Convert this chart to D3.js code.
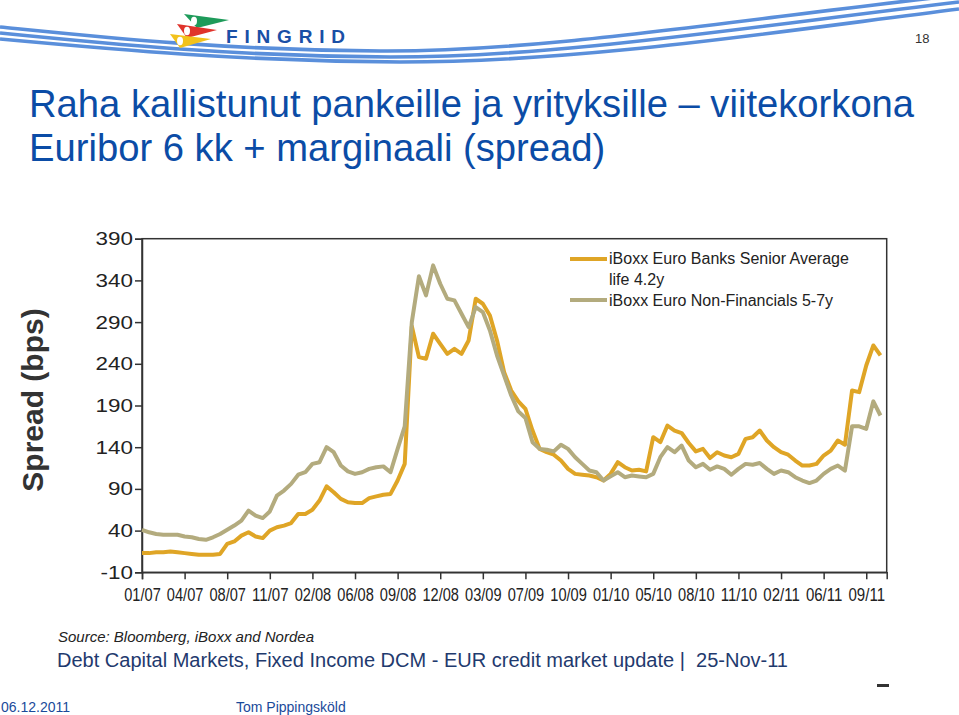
<!DOCTYPE html>
<html><head><meta charset="utf-8">
<script src="https://cdn.jsdelivr.net/npm/d3@7"></script>
<style>
body{margin:0;background:#fff;}
svg{display:block;font-family:"Liberation Sans",Arial,Helvetica,sans-serif;}
text{white-space:pre;}
</style>
</head><body>
<svg id="c" width="959" height="715"></svg>
<script>
// ---------- DATA ----------
const titleLines = ["Raha kallistunut pankeille ja yrityksille \u2013 viitekorkona", "Euribor 6 kk + marginaali (spread)"];
const tickLabels = ["01/07","04/07","08/07","11/07","02/08","06/08","09/08","12/08","03/09","07/09","10/09","01/10","05/10","08/10","11/10","02/11","06/11","09/11"];
const yTicks = [-10,40,90,140,190,240,290,340,390];
const pointsPerTick = 6;
const seriesNames = ["iBoxx Euro Banks Senior Average", "life 4.2y", "iBoxx Euro Non-Financials 5-7y"];
const banksSenior = [
 13,13,14,14,15,14,13,12,11,11, 11,12,24,27,34,38,33,31,40,44,
 46,49,60,60,65,76,93,86,78,74, 73,73,79,81,83,84,100,120,285,248,
 246,276,264,252,258,252,268,318,312,298, 268,230,208,195,186,160,138,134,131,124,
 114,108,107,106,104,100,108,122,116,112, 113,111,152,146,166,160,157,145,135,138,
 127,134,130,128,132,150,152,160,148,140, 134,131,124,118,118,120,130,136,148,143,
 208,206,238,262,250
];
const nonFinancials = [
 41,38,36,35,35,35,33,32,30,29, 32,36,41,46,52,64,58,55,63,82,
 88,96,107,110,120,122,140,134,118,111, 108,110,114,116,117,110,138,165,290,345,
 322,358,336,318,316,300,284,308,302,280, 250,226,202,183,175,146,138,137,135,143,
 138,128,120,112,110,100,105,110,104,106, 105,104,108,128,140,134,142,124,116,120,
 113,117,114,107,114,120,119,121,114,108, 112,110,104,100,97,100,108,114,118,112,
 165,165,162,195,178
];
const footerTexts = ["Source: Bloomberg, iBoxx and Nordea", "Debt Capital Markets, Fixed Income DCM - EUR credit market update |  25-Nov-11"];
const slideDate = "06.12.2011", slideAuthor = "Tom Pippingsk\u00f6ld", slideNumber = "18";

// ---------- STYLE ----------
const goldCol = "#DFA526", khakiCol = "#B3AB7E", titleCol = "#0B4CA6", axisCol = "#222";
const svg = d3.select("#c");

// ---------- HEADER ----------
const hdr = svg.append("g");
const swoosh = [
  "M0,27 C100,37 220,50 380,51 C540,52 720,22 959,-5",
  "M0,33 C110,44 230,56 390,57 C560,57 740,28 959,2",
  "M0,39 C120,50 240,61 400,62 C580,62 760,34 959,9"
];
hdr.selectAll("path.sw").data(swoosh).join("path").attr("class","sw")
  .attr("d", d=>d).attr("fill","none").attr("stroke","#5A8FDB").attr("stroke-width",3.6);
// logo flags
const flags = [
  {c:"#1E9B5A", p:"M184,14 L229,20 L197,28 Z", e:[194,21]},
  {c:"#E0332B", p:"M177,24 L217,30 L187,38 Z", e:[187,31]},
  {c:"#F2C21B", p:"M170,34 L211,39 L180,48 Z", e:[180,41]}
];
flags.forEach(f=>{
  hdr.append("path").attr("d",f.p).attr("fill",f.c);
  hdr.append("ellipse").attr("cx",f.e[0]).attr("cy",f.e[1]).attr("rx",3).attr("ry",4.2).attr("fill","#fff");
});
hdr.append("text").attr("x",226).attr("y",43).attr("font-size",19).attr("font-weight","bold")
  .attr("fill","#1A4FA6").attr("textLength",119).attr("lengthAdjust","spacing").text("FINGRID");
hdr.append("text").attr("x",915).attr("y",43).attr("font-size",13).attr("fill","#333").text(slideNumber);

// ---------- TITLE ----------
svg.selectAll("text.title").data(titleLines).join("text").attr("class","title")
  .attr("x",29).attr("y",(d,i)=>117+i*44).attr("font-size",38.2).attr("fill",titleCol).text(d=>d);

// ---------- CHART ----------
const L=142, R=886.7, T=238.7, B=572.3;
const x = d3.scaleLinear().domain([0, 17.48]).range([L, R]);
const y = d3.scaleLinear().domain([-10, 390]).range([B, T]);

// frame
svg.append("rect").attr("x",L).attr("y",T).attr("width",R-L).attr("height",B-T)
  .attr("fill","none").attr("stroke","#333").attr("stroke-width",1.5);

const yAx = svg.append("g").attr("transform",`translate(${L},0)`)
  .call(d3.axisLeft(y).tickValues(yTicks).tickSize(7).tickPadding(2).tickFormat(d=>String(d)));
yAx.selectAll("text").attr("font-size",19).attr("fill",axisCol)
  .attr("font-family","Liberation Sans, Arial, sans-serif")
  .each(function(){const w=this.getComputedTextLength(); d3.select(this).attr("textLength",w*1.18).attr("lengthAdjust","spacingAndGlyphs");});

const xAx = svg.append("g").attr("transform",`translate(0,${B})`)
  .call(d3.axisBottom(x).tickValues(d3.range(tickLabels.length)).tickFormat(i=>tickLabels[i]).tickSize(7).tickPadding(9));
xAx.selectAll("text").attr("font-size",18).attr("fill",axisCol)
  .attr("font-family","Liberation Sans, Arial, sans-serif")
  .attr("textLength",36.5).attr("lengthAdjust","spacingAndGlyphs");
svg.selectAll(".domain, .tick line").attr("stroke","#333").attr("stroke-width",1.5);

// y label
svg.append("text").attr("transform","translate(43,400) rotate(-90)").attr("text-anchor","middle")
  .attr("font-size",30).attr("font-weight","bold").attr("fill","#333").text("Spread (bps)");

// lines
const line = d3.line().x((d,i)=>x(i/pointsPerTick)).y(d=>y(d)).curve(d3.curveLinear);
svg.append("path").datum(banksSenior).attr("d",line).attr("fill","none")
  .attr("stroke",goldCol).attr("stroke-width",4).attr("stroke-linejoin","round");
svg.append("path").datum(nonFinancials).attr("d",line).attr("fill","none")
  .attr("stroke",khakiCol).attr("stroke-width",4).attr("stroke-linejoin","round");

// legend
const lg = svg.append("g");
[{c:goldCol, ly:259},{c:khakiCol, ly:300}].forEach(s=>{
  lg.append("line").attr("x1",570).attr("x2",607).attr("y1",s.ly).attr("y2",s.ly)
    .attr("stroke",s.c).attr("stroke-width",4);
});
lg.selectAll("text").data(seriesNames).join("text").attr("x",609)
  .attr("y",(d,i)=>[264,285,306][i]).attr("font-size",16).attr("fill","#222").text(d=>d);

// ---------- FOOTER ----------
svg.append("text").attr("x",58).attr("y",642).attr("font-size",14).attr("font-style","italic")
  .attr("fill","#222").attr("textLength",256).attr("lengthAdjust","spacingAndGlyphs").text(footerTexts[0]);
svg.append("text").attr("x",57).attr("y",667).attr("font-size",20)
  .attr("fill","#1F3A6E").attr("textLength",731).attr("lengthAdjust","spacingAndGlyphs").text(footerTexts[1]);
svg.append("rect").attr("x",877).attr("y",684).attr("width",12).attr("height",3).attr("fill","#333");
svg.append("text").attr("x",1).attr("y",712).attr("font-size",14).attr("fill","#1A4A9A").text(slideDate);
svg.append("text").attr("x",236).attr("y",712).attr("font-size",14).attr("fill","#1A4A9A").text(slideAuthor);
</script>
</body></html>
